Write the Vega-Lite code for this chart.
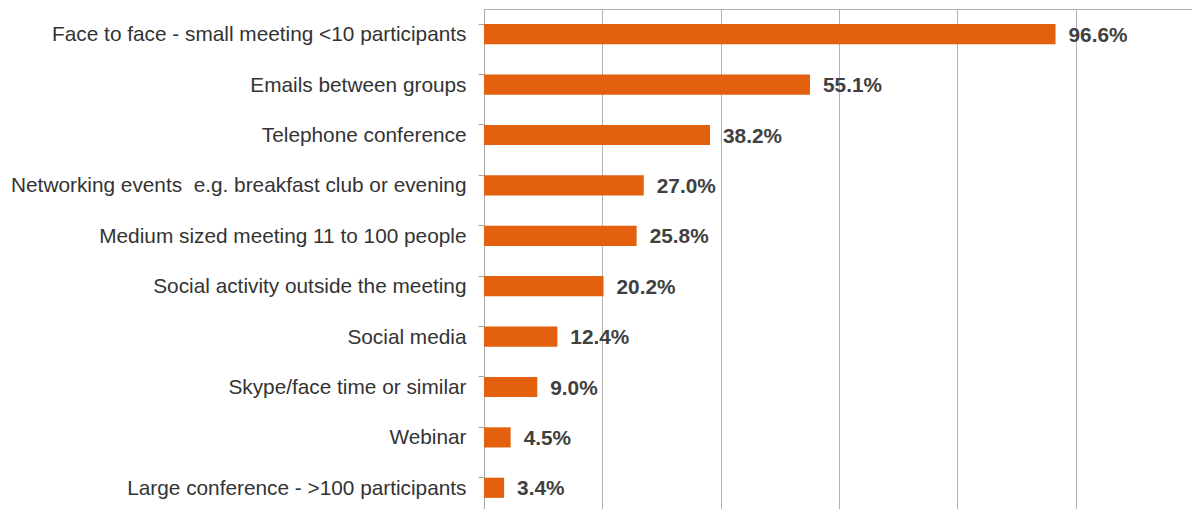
{
  "$schema": "https://vega.github.io/schema/vega-lite/v6.json",
  "width": 710,
  "height": 504,
  "autosize": "none",
  "padding": {"left": 484, "top": 9, "right": 0, "bottom": 0},
  "background": "white",
  "config": {"view": {"stroke": null}, "font": "Liberation Sans"},
  "data": {"values": [
    {"category": "Face to face - small meeting <10 participants", "value": 96.6, "label": "96.6%"},
    {"category": "Emails between groups", "value": 55.1, "label": "55.1%"},
    {"category": "Telephone conference", "value": 38.2, "label": "38.2%"},
    {"category": "Networking events \u00a0e.g. breakfast club or evening", "value": 27.0, "label": "27.0%"},
    {"category": "Medium sized meeting 11 to 100 people", "value": 25.8, "label": "25.8%"},
    {"category": "Social activity outside the meeting", "value": 20.2, "label": "20.2%"},
    {"category": "Social media", "value": 12.4, "label": "12.4%"},
    {"category": "Skype/face time or similar", "value": 9.0, "label": "9.0%"},
    {"category": "Webinar", "value": 4.5, "label": "4.5%"},
    {"category": "Large conference - >100 participants", "value": 3.4, "label": "3.4%"}
  ]},
  "encoding": {
    "y": {
      "field": "category", "type": "nominal", "sort": null,
      "scale": {"paddingInner": 0.6, "paddingOuter": 0.3},
      "axis": {
        "title": null, "domainColor": "#a6a6a6", "tickColor": "#a6a6a6",
        "tickSize": 6, "bandPosition": 0, "labelFontSize": 20.8, "labelColor": "#333333",
        "labelPadding": 12, "labelLimit": 600, "labelOffset": 1, "grid": false
      }
    },
    "x": {
      "field": "value", "type": "quantitative",
      "scale": {"domain": [0, 120], "nice": false},
      "axis": {
        "orient": "top", "title": null, "labels": false, "ticks": false,
        "values": [0, 20, 40, 60, 80, 100, 120],
        "grid": true, "gridColor": "#b3b3b3", "domainColor": "#b3b3b3"
      }
    }
  },
  "layer": [
    {"mark": {"type": "bar", "color": "#e2600e"}},
    {
      "mark": {"type": "text", "align": "left", "dx": 13, "dy": 1.5, "fontSize": 20.8, "fontWeight": "bold", "color": "#404040"},
      "encoding": {"text": {"field": "label", "type": "nominal"}}
    }
  ]
}
